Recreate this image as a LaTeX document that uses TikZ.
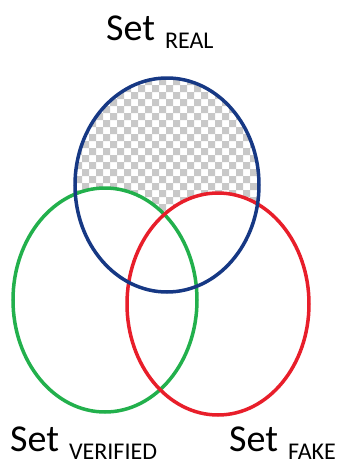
\documentclass[tikz,border=0pt]{standalone}
\usepackage{fontspec}
\setmainfont{Carlito}
\definecolor{checkgrey}{RGB}{200,200,200}
\definecolor{realblue}{RGB}{22,56,132}
\definecolor{verigreen}{RGB}{34,176,76}
\definecolor{fakered}{RGB}{232,30,42}
\newcommand{\setsub}[1]{\hspace{10pt}\raisebox{-8pt}{\fontsize{24}{27}\selectfont #1}}
\begin{document}
\begin{tikzpicture}[
        x=1pt, y=-1pt,
        setline/.style={line width=3.5pt},
        setlabel/.style={anchor=base west, inner sep=0pt, font=\fontsize{38}{44}\selectfont}
    ]
    \useasboundingbox (0,0) rectangle (344,464);
    % checkered part of the real set
    \begin{scope}
        \clip (167,185) ellipse [x radius=92, y radius=107];
        \foreach \i in {0,...,13}
            \foreach \j in {0,...,15}
                \fill[checkgrey] ({75+14*\i},{78+14*\j}) rectangle +(7,7)
                    ({82+14*\i},{85+14*\j}) rectangle +(7,7);
    \end{scope}
    \fill[white] (105,300) ellipse [x radius=92, y radius=112];
    \fill[white] (218,304) ellipse [x radius=91, y radius=111];

    \draw[setline, verigreen] (105,300) ellipse [x radius=92, y radius=112];
    \draw[setline, fakered] (218,304) ellipse [x radius=91, y radius=111];
    \draw[setline, realblue] (167,185) ellipse [x radius=92, y radius=107];

    \node[setlabel] (real) at (106,40) {Set\setsub{REAL}};
    \node[setlabel] (verified) at (10,451) {Set\setsub{VERIFIED}};
    \node[setlabel] (fake) at (229,451) {Set\setsub{FAKE}};
\end{tikzpicture}
\end{document}
